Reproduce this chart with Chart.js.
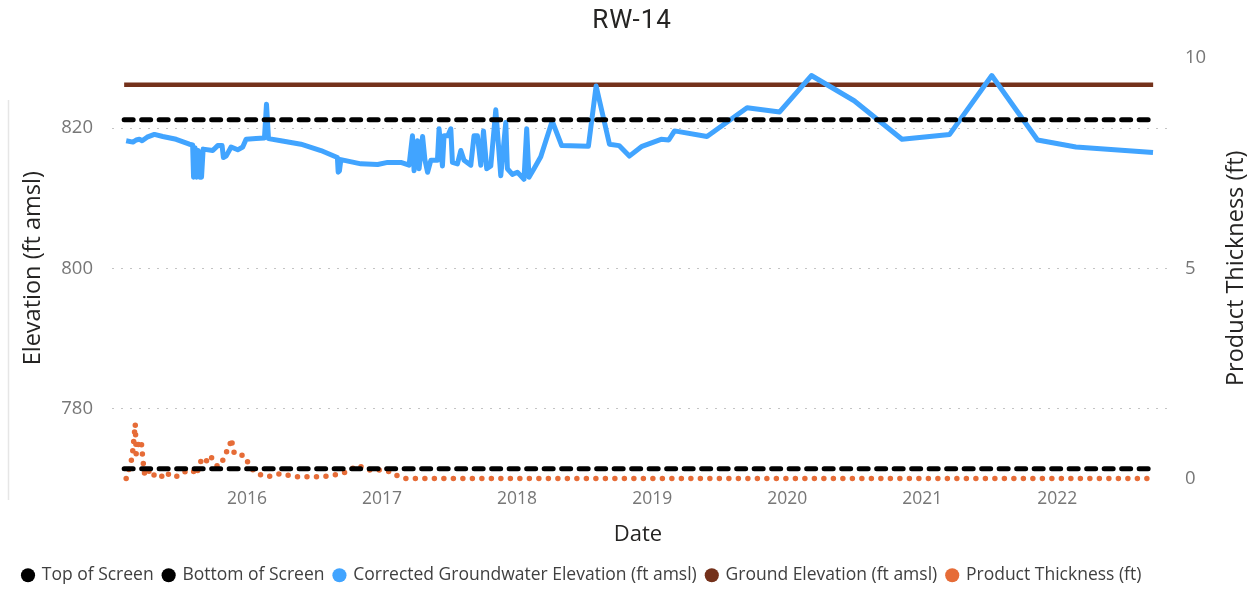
<!DOCTYPE html>
<html>
<head>
<meta charset="utf-8">
<title>RW-14</title>
<script src="https://cdn.jsdelivr.net/npm/chart.js@4.4.1/dist/chart.umd.min.js"></script>
<style>
  html, body { margin: 0; padding: 0; background: #fff; overflow: hidden; }
  #wrap { width: 1257px; height: 594px; }
</style>
</head>
<body>
<div id="wrap"><canvas id="rwChart"></canvas></div>
<script>
// chart data (dates as decimal years)
const chartTitle = 'RW-14';
const seriesNames = ['Top of Screen', 'Bottom of Screen', 'Corrected Groundwater Elevation (ft amsl)', 'Ground Elevation (ft amsl)', 'Product Thickness (ft)'];
const xTickYears = [2016, 2017, 2018, 2019, 2020, 2021, 2022];
const leftTicks = [780, 800, 820];
const rightTicks = [0, 5, 10];

const lineDates = [2015.09, 2022.71];
const topOfScreen = [821.2, 821.2];
const bottomOfScreen = [771.4, 771.4];
const groundElev = [826.2, 826.2];

const gwDates = [
  2015.105, 2015.155, 2015.179, 2015.203, 2015.223, 2015.260, 2015.314, 2015.376, 2015.475, 2015.573,
  2015.597, 2015.604, 2015.615, 2015.626, 2015.638, 2015.649, 2015.663, 2015.675, 2015.746, 2015.783,
  2015.815, 2015.825, 2015.845, 2015.882, 2015.931, 2015.968, 2015.993, 2016.067, 2016.129, 2016.144,
  2016.159, 2016.251, 2016.399, 2016.547, 2016.669, 2016.675, 2016.684, 2016.695, 2016.843, 2016.967,
  2017.041, 2017.139, 2017.200, 2017.225, 2017.237, 2017.262, 2017.274, 2017.300, 2017.317, 2017.337,
  2017.361, 2017.410, 2017.422, 2017.447, 2017.459, 2017.487, 2017.509, 2017.521, 2017.558, 2017.583,
  2017.607, 2017.657, 2017.681, 2017.706, 2017.731, 2017.751, 2017.775, 2017.805, 2017.842, 2017.879,
  2017.916, 2017.928, 2017.965, 2018.002, 2018.027, 2018.051, 2018.071, 2018.088, 2018.125, 2018.175,
  2018.260, 2018.330, 2018.528, 2018.585, 2018.684, 2018.755, 2018.831, 2018.925, 2019.066, 2019.123,
  2019.166, 2019.406, 2019.703, 2019.944, 2020.179, 2020.496, 2020.850, 2021.203, 2021.515, 2021.854,
  2022.138, 2022.709
];
const gwElev = [
  818.2, 818.0, 818.3, 818.4, 818.2, 818.7, 819.1, 818.8, 818.4, 817.7,
  817.6, 813.0, 817.2, 813.0, 816.8, 813.0, 813.0, 817.0, 816.8, 817.5,
  817.5, 815.8, 816.0, 817.3, 816.9, 817.3, 818.4, 818.5, 818.6, 823.4,
  818.5, 818.2, 817.7, 816.8, 815.8, 813.7, 813.9, 815.5, 814.9, 814.8,
  815.1, 815.1, 814.7, 818.9, 813.9, 818.2, 814.2, 818.8, 815.5, 813.7,
  815.4, 815.4, 819.9, 814.6, 818.9, 818.9, 819.9, 815.1, 814.9, 816.8,
  815.4, 814.7, 818.9, 818.9, 814.7, 819.6, 814.2, 814.6, 822.6, 813.2,
  820.8, 814.2, 813.4, 813.7, 813.2, 812.7, 819.9, 813.0, 814.2, 815.9,
  821.0, 817.5, 817.4, 826.0, 817.7, 817.5, 816.0, 817.4, 818.4, 818.3,
  819.6, 818.8, 822.9, 822.3, 827.5, 823.9, 818.4, 819.1, 827.5, 818.3,
  817.3, 816.5
];

const productDates = [
  2015.105, 2015.127, 2015.149, 2015.166, 2015.172, 2015.179, 2015.194, 2015.216, 2015.229, 2015.241,
  2015.266, 2015.290, 2015.327, 2015.364, 2015.400, 2015.438, 2015.490, 2015.536, 2015.598, 2015.623,
  2015.660, 2015.689, 2015.721, 2015.749, 2015.783, 2015.820, 2015.845, 2015.867, 2015.882, 2015.896,
  2015.906, 2015.943, 2015.980, 2016.005, 2016.054, 2016.104, 2016.153, 2016.200, 2016.251, 2016.301,
  2016.375, 2016.449, 2016.547, 2016.643, 2016.745, 2016.819, 2016.893, 2016.991, 2017.065, 2017.102,
  2017.161, 2022.709
];
const productThickness = [
  0.00, 0.24, 0.50, 1.07, 1.30, 0.59, 0.80, 0.91, 0.43, 0.12,
  0.24, 0.04, 0.12, 0.04, 0.16, 0.04, 0.06, 0.16, 0.20, 0.08,
  0.43, 0.35, 0.55, 0.45, 0.28, 0.43, 0.63, 0.68, 0.95, 0.75,
  0.59, 0.55, 0.55, 0.39, 0.16, 0.08, 0.04, 0.08, 0.12, 0.08,
  0.04, 0.04, 0.04, 0.08, 0.16, 0.32, 0.20, 0.20, 0.16, 0.08,
  0.00, 0.00
];

const toPoints = (xs, ys) => xs.map((x, i) => ({ x: x, y: ys[i] }));

// axis titles and chart title drawn by hand so the right title reads bottom-to-top
const textLayer = {
  id: 'textLayer',
  beforeDraw(chart) {
    const ctx = chart.ctx;
    ctx.save();
    ctx.strokeStyle = '#e6e6e6';
    ctx.lineWidth = 1.5;
    ctx.beginPath();
    ctx.moveTo(8.5, 100);
    ctx.lineTo(8.5, 500);
    ctx.stroke();
    ctx.restore();
  },
  afterDraw(chart) {
    const ctx = chart.ctx;
    const area = chart.chartArea;
    const midY = (area.top + area.bottom) / 2;
    ctx.save();
    ctx.fillStyle = '#252423';
    ctx.textAlign = 'center';
    ctx.textBaseline = 'middle';
    ctx.font = '26px Roboto';
    ctx.letterSpacing = '1px';
    ctx.fillText(chartTitle, 632, 21);
    ctx.letterSpacing = '0px';
    ctx.font = '22px "Open Sans"';
    ctx.fillText('Date', 638, 535);
    ctx.font = '23.5px "Open Sans"';
    ctx.save();
    ctx.translate(33, midY);
    ctx.rotate(-Math.PI / 2);
    ctx.fillText('Elevation (ft amsl)', 0, 0);
    ctx.restore();
    ctx.translate(1236, midY);
    ctx.rotate(-Math.PI / 2);
    ctx.fillText('Product Thickness (ft)', 0, 0);
    ctx.restore();
  }
};

new Chart(document.getElementById('rwChart'), {
  type: 'line',
  data: {
    datasets: [
      {
        label: seriesNames[0],
        data: toPoints(lineDates, topOfScreen),
        borderColor: '#000000', backgroundColor: '#000000',
        borderWidth: 5, borderDash: [9, 8.5], borderCapStyle: 'round',
        yAxisID: 'y'
      },
      {
        label: seriesNames[1],
        data: toPoints(lineDates, bottomOfScreen),
        borderColor: '#000000', backgroundColor: '#000000',
        borderWidth: 5, borderDash: [9, 8.5], borderCapStyle: 'round',
        yAxisID: 'y'
      },
      {
        label: seriesNames[2],
        data: toPoints(gwDates, gwElev),
        borderColor: '#41A4FF', backgroundColor: '#41A4FF',
        borderWidth: 5, borderJoinStyle: 'round',
        yAxisID: 'y'
      },
      {
        label: seriesNames[3],
        data: toPoints(lineDates, groundElev),
        borderColor: '#74311B', backgroundColor: '#74311B',
        borderWidth: 4.5,
        yAxisID: 'y'
      },
      {
        label: seriesNames[4],
        data: toPoints(productDates, productThickness),
        borderColor: '#E66C37', backgroundColor: '#E66C37',
        borderWidth: 5.5, borderDash: [0, 9.5], borderCapStyle: 'round',
        clip: 8,
        yAxisID: 'y1'
      }
    ]
  },
  options: {
    responsive: true,
    maintainAspectRatio: false,
    animation: false,
    events: [],
    elements: { point: { radius: 0 }, line: { tension: 0 } },
    layout: { padding: { left: 13, top: 58, right: 0, bottom: 0 } },
    plugins: {
      title: { display: false },
      tooltip: { enabled: false },
      legend: {
        position: 'bottom',
        align: 'start',
        labels: {
          usePointStyle: true,
          boxWidth: 10,
          boxHeight: 10,
          padding: 10,
          color: '#404040',
          font: { family: '"Open Sans"', size: 17.5 },
          generateLabels(chart) {
            const items = Chart.defaults.plugins.legend.labels.generateLabels(chart);
            items.forEach(it => {
              it.pointStyle = 'circle';
              it.lineWidth = 0;
              it.lineDash = [];
              it.fillStyle = it.strokeStyle;
            });
            return items;
          }
        }
      }
    },
    scales: {
      x: {
        type: 'linear',
        min: 2015.0,
        max: 2022.82,
        afterBuildTicks: axis => { axis.ticks = xTickYears.map(v => ({ value: v })); },
        afterFit: axis => { axis.height = 78; },
        grid: { display: false, drawTicks: false },
        border: { display: false },
        ticks: {
          padding: 10,
          color: '#777777',
          font: { family: '"Open Sans"', size: 17.5 },
          callback: v => String(v)
        }
      },
      y: {
        position: 'left',
        min: 770,
        max: 830,
        afterBuildTicks: axis => { axis.ticks = leftTicks.map(v => ({ value: v })); },
        afterFit: axis => { axis.width = 99; },
        grid: { color: '#c4c4c4', lineWidth: 1, drawTicks: false },
        border: { display: false, dash: [2, 7] },
        ticks: {
          padding: 19,
          color: '#777777',
          font: { family: '"Open Sans"', size: 18.5 },
          callback: v => String(v)
        }
      },
      y1: {
        position: 'right',
        min: 0,
        max: 10,
        afterBuildTicks: axis => { axis.ticks = rightTicks.map(v => ({ value: v })); },
        afterFit: axis => { axis.width = 89; },
        grid: { display: false, drawTicks: false },
        border: { display: false },
        ticks: {
          padding: 17,
          color: '#777777',
          font: { family: '"Open Sans"', size: 18.5 },
          callback: v => String(v)
        }
      }
    }
  },
  plugins: [textLayer]
});
</script>
</body>
</html>
